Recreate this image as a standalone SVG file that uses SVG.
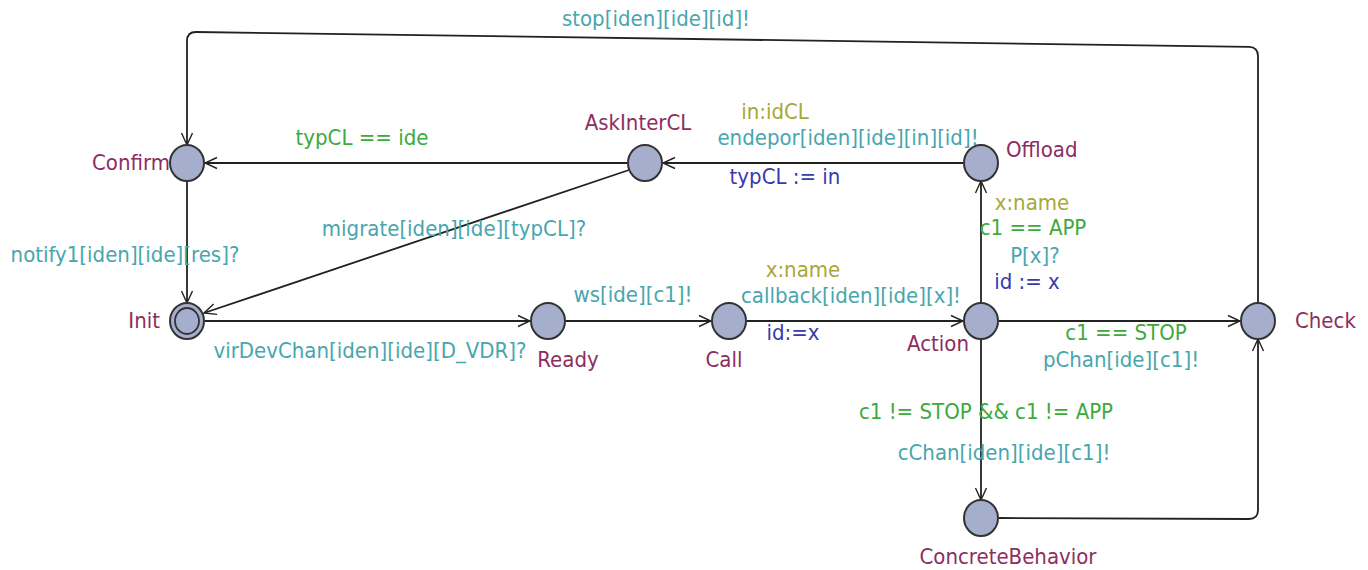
<svg xmlns="http://www.w3.org/2000/svg" width="1368" height="570" viewBox="0 0 1368 570">
<defs>
<marker id="arr" viewBox="0 0 14 14" refX="13" refY="7" markerWidth="14" markerHeight="14" markerUnits="userSpaceOnUse" orient="auto">
<path d="M1,1.5 L13,7 L1,12.5" fill="none" stroke="#222" stroke-width="1.4"/>
</marker>
<style>
.e{fill:none;stroke:#222;stroke-width:1.8;marker-end:url(#arr)}
.n{fill:#a5aecc;stroke:#333;stroke-width:2}
text{font-family:"DejaVu Sans Condensed","DejaVu Sans",sans-serif;font-size:22px}
.nm{fill:#8c2e5f}
.sy{fill:#48a6ae}
.gu{fill:#3caa3c}
.se{fill:#a8a838}
.as{fill:#3a3aac}
</style>
</defs>
<rect width="1368" height="570" fill="#fff"/>
<g id="connectors">
<path class="e" d="M1258,303 L1258,56 Q1258,47 1249,46.8 L196,32 Q187,32 187,41 L187,145"/>
<path class="e" d="M627,163 L205,163"/>
<path class="e" d="M963,163 L663,163"/>
<path class="e" d="M629,170 L204,313"/>
<path class="e" d="M187,181 L187,303"/>
<path class="e" d="M205,321 L530,321"/>
<path class="e" d="M566,321 L711,321"/>
<path class="e" d="M747,321 L963,321"/>
<path class="e" d="M981,303 L981,181"/>
<path class="e" d="M999,321 L1240,321"/>
<path class="e" d="M981,339 L981,500"/>
<path class="e" d="M999,518 L1249,519 Q1258,519 1258,510 L1258,339"/>
<text class="sy" x="656" y="26" text-anchor="middle">stop[iden][ide][id]!</text>
<text class="gu" x="362" y="145" text-anchor="middle">typCL == ide</text>
<text class="se" x="775" y="119" text-anchor="middle">in:idCL</text>
<text class="sy" x="848" y="145" text-anchor="middle">endepor[iden][ide][in][id]!</text>
<text class="as" x="785" y="184" text-anchor="middle">typCL := in</text>
<text class="sy" x="454" y="236" text-anchor="middle">migrate[iden][ide][typCL]?</text>
<text class="sy" x="125" y="262" text-anchor="middle">notify1[iden][ide][res]?</text>
<text class="sy" x="370" y="358" text-anchor="middle">virDevChan[iden][ide][D_VDR]?</text>
<text class="sy" x="633" y="302" text-anchor="middle">ws[ide][c1]!</text>
<text class="se" x="803" y="277" text-anchor="middle">x:name</text>
<text class="sy" x="851" y="303" text-anchor="middle">callback[iden][ide][x]!</text>
<text class="as" x="793" y="340" text-anchor="middle">id:=x</text>
<text class="se" x="1032" y="210" text-anchor="middle">x:name</text>
<text class="gu" x="1033" y="235" text-anchor="middle">c1 == APP</text>
<text class="sy" x="1035" y="263" text-anchor="middle">P[x]?</text>
<text class="as" x="1027" y="289" text-anchor="middle">id := x</text>
<text class="gu" x="1126" y="340" text-anchor="middle">c1 == STOP</text>
<text class="sy" x="1121" y="367" text-anchor="middle">pChan[ide][c1]!</text>
<text class="gu" x="986" y="419" text-anchor="middle">c1 != STOP &amp;&amp; c1 != APP</text>
<text class="sy" x="1004" y="460" text-anchor="middle">cChan[iden][ide][c1]!</text>
</g>
<g id="Confirm"><ellipse class="n" cx="187" cy="163" rx="17" ry="18"/><text class="nm" x="170" y="170" text-anchor="end">Confirm</text></g>
<g id="AskInterCL"><ellipse class="n" cx="645" cy="163" rx="17" ry="18"/><text class="nm" x="638" y="130" text-anchor="middle">AskInterCL</text></g>
<g id="Offload"><ellipse class="n" cx="981" cy="163" rx="17" ry="18"/><text class="nm" x="1006" y="157">Offload</text></g>
<g id="Init"><ellipse class="n" cx="187" cy="321" rx="17" ry="18"/><ellipse fill="none" stroke="#333" stroke-width="1.8" cx="187" cy="321" rx="12" ry="13"/><text class="nm" x="160" y="328" text-anchor="end">Init</text></g>
<g id="Ready"><ellipse class="n" cx="548" cy="321" rx="17" ry="18"/><text class="nm" x="568" y="367" text-anchor="middle">Ready</text></g>
<g id="Call"><ellipse class="n" cx="729" cy="321" rx="17" ry="18"/><text class="nm" x="724" y="367" text-anchor="middle">Call</text></g>
<g id="Action"><ellipse class="n" cx="981" cy="321" rx="17" ry="18"/><text class="nm" x="938" y="351" text-anchor="middle">Action</text></g>
<g id="Check"><ellipse class="n" cx="1258" cy="321" rx="17" ry="18"/><text class="nm" x="1295" y="328">Check</text></g>
<g id="ConcreteBehavior"><ellipse class="n" cx="981" cy="518" rx="17" ry="18"/><text class="nm" x="1008" y="564" text-anchor="middle">ConcreteBehavior</text></g>
</svg>
